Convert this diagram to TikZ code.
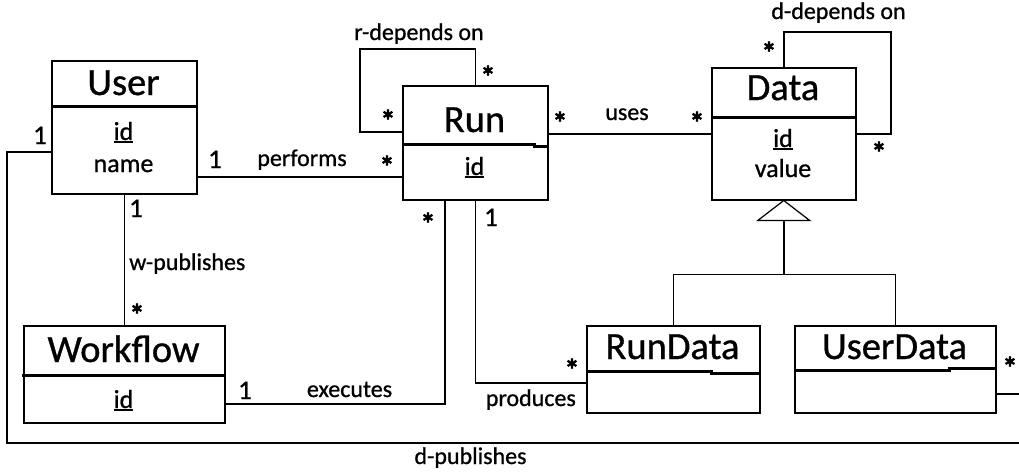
\documentclass[tikz,border=0pt]{standalone}
\usepackage{fontspec}
\setmainfont{Carlito}[UprightFeatures={FakeBold=0.8}, BoldFeatures={FakeBold=1.6}]
\usetikzlibrary{calc}

% underlined key attribute
\newcommand\keyattr[1]{\setbox0\hbox{#1}\rlap{\rule[-3.2pt]{\wd0}{2.2pt}}\box0}

\tikzset{
  cls/.style={draw, line width=1.5pt, anchor=north west, inner sep=0pt},
  divider/.style={line width=3pt},
  conn/.style={line width=1.5pt},
  title/.style={anchor=base, inner sep=0pt, font=\fontsize{38.5}{42}\selectfont},
  attr/.style={anchor=base, inner sep=0pt, font=\fontsize{26}{30}\selectfont},
  lbl/.style={anchor=base, inner sep=0pt, font=\fontsize{24}{28}\selectfont},
  one/.style={anchor=base, inner sep=0pt, font=\fontsize{27}{30}\selectfont},
  ast/.style={anchor=base, inner sep=0pt, yshift=-15pt, font=\bfseries\fontsize{30}{32}\selectfont},
}

\begin{document}
\begin{tikzpicture}[x=1pt,y=-1pt]
\clip (0,0) rectangle (1019,474);
\fill[white] (0,0) rectangle (1019,474);

% ---------- classes ----------
\node[cls, minimum width=145pt, minimum height=133pt] (user) at (51,60) {};
\draw[divider] ($(user.north west)+(0,46)$) -- ($(user.north east)+(0,46)$);
\node[title] (userT) at (123.5,95) {User};
\node[attr] (userId) at (123.5,140) {\keyattr{id}};
\node[attr] (userName) at (123.5,172) {name};

\node[cls, minimum width=145pt, minimum height=114pt] (run) at (402,85) {};
\draw[divider] ($(run.north west)+(0,59)$) -- ($(run.north west)+(132,59)$)
  -- ($(run.north west)+(132,61)$) -- ($(run.north east)+(0,61)$);
\node[title] (runT) at (474.5,132) {Run};
\node[attr] (runId) at (474.5,175) {\keyattr{id}};

\node[cls, minimum width=144pt, minimum height=132pt] (data) at (711,67) {};
\draw[divider] ($(data.north west)+(0,50)$) -- ($(data.north east)+(0,50)$);
\node[title] (dataT) at (783,100) {Data};
\node[attr] (dataId) at (783,147) {\keyattr{id}};
\node[attr] (dataVal) at (783,177) {value};

\node[cls, minimum width=201pt, minimum height=97pt] (workflow) at (23,325) {};
\draw[divider] ($(workflow.north west)+(-1.5,50)$) -- ($(workflow.north east)+(0,50)$);
\node[title] (wfT) at (123.5,362) {Workflow};
\node[attr] (wfId) at (123.5,408) {\keyattr{id}};

\node[cls, minimum width=173pt, minimum height=87pt] (rundata) at (586,325) {};
\draw[divider] ($(rundata.north west)+(0,46)$) -- ($(rundata.north west)+(125,46)$)
  -- ($(rundata.north west)+(125,48)$) -- ($(rundata.north east)+(0,48)$);
\node[title] (rdT) at (672.5,359) {RunData};

\node[cls, minimum width=201pt, minimum height=87pt] (userdata) at (794,325) {};
\draw[divider] ($(userdata.north west)+(0,45)$) -- ($(userdata.north west)+(155,45)$)
  -- ($(userdata.north west)+(155,43)$) -- ($(userdata.north east)+(0,43)$);
\node[title] (udT) at (894.5,359) {UserData};

% ---------- bend points ----------
\coordinate (rloop) at (360,49);
\coordinate (dloop) at (891,32);
\coordinate (dpubL) at (7,443);
\coordinate (dpubR) at (1030,443);

% ---------- associations ----------
% performs
\draw[conn] ($(user.east)+(0,49.5)$) -- ($(run.west)+(0,34)$);
% w-publishes
\draw[conn] (user.south) -- (workflow.north);
% executes
\draw[conn] ($(workflow.east)+(0,29.5)$) -| ($(run.south)+(-30.5,0)$);
% produces
\draw[conn] (run.south) |- ($(rundata.west)+(0,13.5)$);
% uses
\draw[conn] ($(run.east)+(0,-9)$) -- (data.west);
% r-depends on
\draw[conn] (run.north) |- (rloop) |- ($(run.west)+(0,-11)$);
% d-depends on
\draw[conn] (data.north) |- (dloop) |- (data.east);
% d-publishes
\draw[conn] ($(user.west)+(0,24.5)$) -| (dpubL) -- (dpubR) |- ($(userdata.east)+(0,24.5)$);

% ---------- generalisation ----------
\coordinate (genbase) at ($(data.south)+(0,20)$);
\coordinate (genbar) at ($(data.south)+(0,74)$);
\draw[conn, fill=white, line width=1.2pt] (data.south) -- ($(genbase)+(26,0)$) -- ($(genbase)+(-26,0)$) -- cycle;
\draw[conn] (genbase) -- (genbar);
\draw[conn] (rundata.north) |- (genbar) -| (userdata.north);

% ---------- role names ----------
\node[lbl] (lPerforms) at (302,166) {performs};
\node[lbl, anchor=base west] (lWpub) at (129,270) {w-publishes};
\node[lbl] (lExec) at (349.5,397) {executes};
\node[lbl, anchor=base east] (lProd) at (576,406) {produces};
\node[lbl] (lUses) at (627,120) {uses};
\node[lbl] (lRdep) at (419,40) {r-depends on};
\node[lbl] (lDdep) at (838.5,19) {d-depends on};
\node[lbl] (lDpub) at (470.5,464) {d-publishes};

% ---------- multiplicities ----------
\node[one] (m1) at (40,144) {1};
\node[one] (m2) at (215,168) {1};
\node[one] (m3) at (136,217) {1};
\node[one] (m4) at (491,226) {1};
\node[one] (m5) at (245,399) {1};

\node[ast] (s1) at (387,162) {*};
\node[ast] (s2) at (137,310) {*};
\node[ast] (s3) at (428,219) {*};
\node[ast] (s4) at (572,365) {*};
\node[ast] (s5) at (1010,363) {*};
\node[ast] (s6) at (488,72) {*};
\node[ast] (s7) at (388,116) {*};
\node[ast] (s8) at (560,118) {*};
\node[ast] (s9) at (697,118) {*};
\node[ast] (s10) at (769,48) {*};
\node[ast] (s11) at (879,148) {*};
\end{tikzpicture}
\end{document}
